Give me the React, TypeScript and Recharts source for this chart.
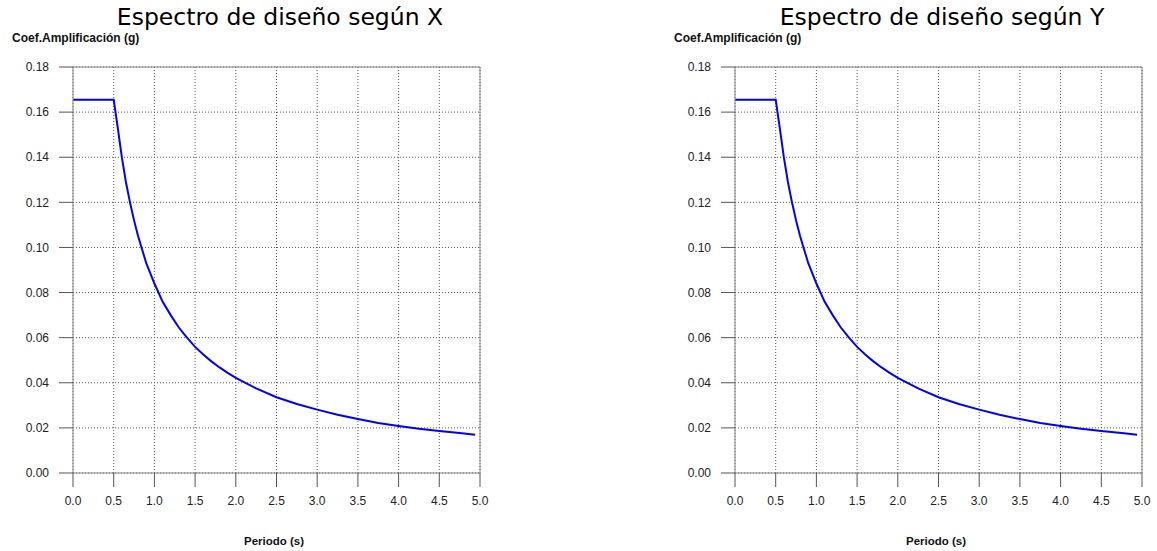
import React from "react"
import { LineChart, Line, XAxis, YAxis, CartesianGrid, ReferenceLine } from "recharts"

// periodo (s) y coeficiente de amplificación (g)
const periods = [0, 0.5, 0.55, 0.6, 0.65, 0.7, 0.75, 0.8, 0.9, 1.0, 1.1, 1.2, 1.3, 1.4, 1.5, 1.6, 1.7, 1.8, 1.9, 2.0, 2.25, 2.5, 2.75, 3.0, 3.25, 3.5, 3.75, 4.0, 4.25, 4.5, 4.75, 4.94]
const saX = [0.1655, 0.1655, 0.153, 0.14, 0.129, 0.12, 0.112, 0.105, 0.093, 0.084, 0.076, 0.07, 0.0645, 0.06, 0.0559, 0.0525, 0.0495, 0.0468, 0.0444, 0.0422, 0.0375, 0.0336, 0.0306, 0.0281, 0.0258, 0.0239, 0.0222, 0.0208, 0.0196, 0.0186, 0.0177, 0.017]
const saY = [0.1655, 0.1655, 0.153, 0.14, 0.129, 0.12, 0.112, 0.105, 0.093, 0.084, 0.076, 0.07, 0.0645, 0.06, 0.0559, 0.0525, 0.0495, 0.0468, 0.0444, 0.0422, 0.0375, 0.0336, 0.0306, 0.0281, 0.0258, 0.0239, 0.0222, 0.0208, 0.0196, 0.0186, 0.0177, 0.017]

const xTicks = [0, 0.5, 1.0, 1.5, 2.0, 2.5, 3.0, 3.5, 4.0, 4.5, 5.0]
const yTicks = [0, 0.02, 0.04, 0.06, 0.08, 0.1, 0.12, 0.14, 0.16, 0.18]

const tickStyle = { fontSize: 12, fill: "#222", fontFamily: "Liberation Sans, Arial, sans-serif" }

function Spectrum({ left, title, values }: { left: number; title: string; values: number[] }) {
  const data = periods.map((t, i) => ({ t, sa: values[i] }))
  return (
    <div style={{ position: "absolute", left, top: 0, width: 500, height: 551 }}>
      <div style={{
        position: "absolute", left: 280, top: 2, transform: "translateX(-50%)", whiteSpace: "nowrap",
        fontFamily: "DejaVu Sans, sans-serif", fontSize: 23.5, lineHeight: "30px", color: "#000"
      }}>{title}</div>
      <div style={{
        position: "absolute", left: 12, top: 31, whiteSpace: "nowrap",
        fontFamily: "Liberation Sans, Arial, sans-serif", fontSize: 12, fontWeight: "bold", lineHeight: "14px", color: "#111"
      }}>Coef.Amplificación (g)</div>
      <div style={{
        position: "absolute", left: 274, top: 534, transform: "translateX(-50%)", whiteSpace: "nowrap",
        fontFamily: "Liberation Sans, Arial, sans-serif", fontSize: 11.5, fontWeight: "bold", lineHeight: "14px", color: "#111"
      }}>Periodo (s)</div>
      <LineChart width={500} height={551} data={data} margin={{ top: 67, right: 20, bottom: 0, left: 13 }}>
        <CartesianGrid stroke="#555" strokeDasharray="1 2" />
        <XAxis
          dataKey="t" type="number" domain={[0, 5]} ticks={xTicks} height={78}
          tickFormatter={(v: number) => v.toFixed(1)}
          tickSize={14} tickMargin={9} tick={tickStyle}
          axisLine={{ stroke: "#888" }} tickLine={{ stroke: "#555" }}
        />
        <YAxis
          type="number" domain={[0, 0.18]} ticks={yTicks} width={60}
          tickFormatter={(v: number) => v.toFixed(2)}
          tickSize={14} tickMargin={10} tick={tickStyle}
          axisLine={{ stroke: "#888" }} tickLine={{ stroke: "#555" }}
        />
        <ReferenceLine y={0.18} stroke="#888" />
        <ReferenceLine x={5} stroke="#888" />
        <Line type="linear" dataKey="sa" stroke="#0000ff" strokeWidth={2} dot={false} isAnimationActive={false} />
      </LineChart>
    </div>
  )
}

export default function App() {
  return (
    <div style={{ position: "absolute", left: 0, top: 0, width: 1157, height: 551, background: "#fff" }}>
      <Spectrum left={0} title="Espectro de diseño según X" values={saX} />
      <Spectrum left={662} title="Espectro de diseño según Y" values={saY} />
    </div>
  )
}
